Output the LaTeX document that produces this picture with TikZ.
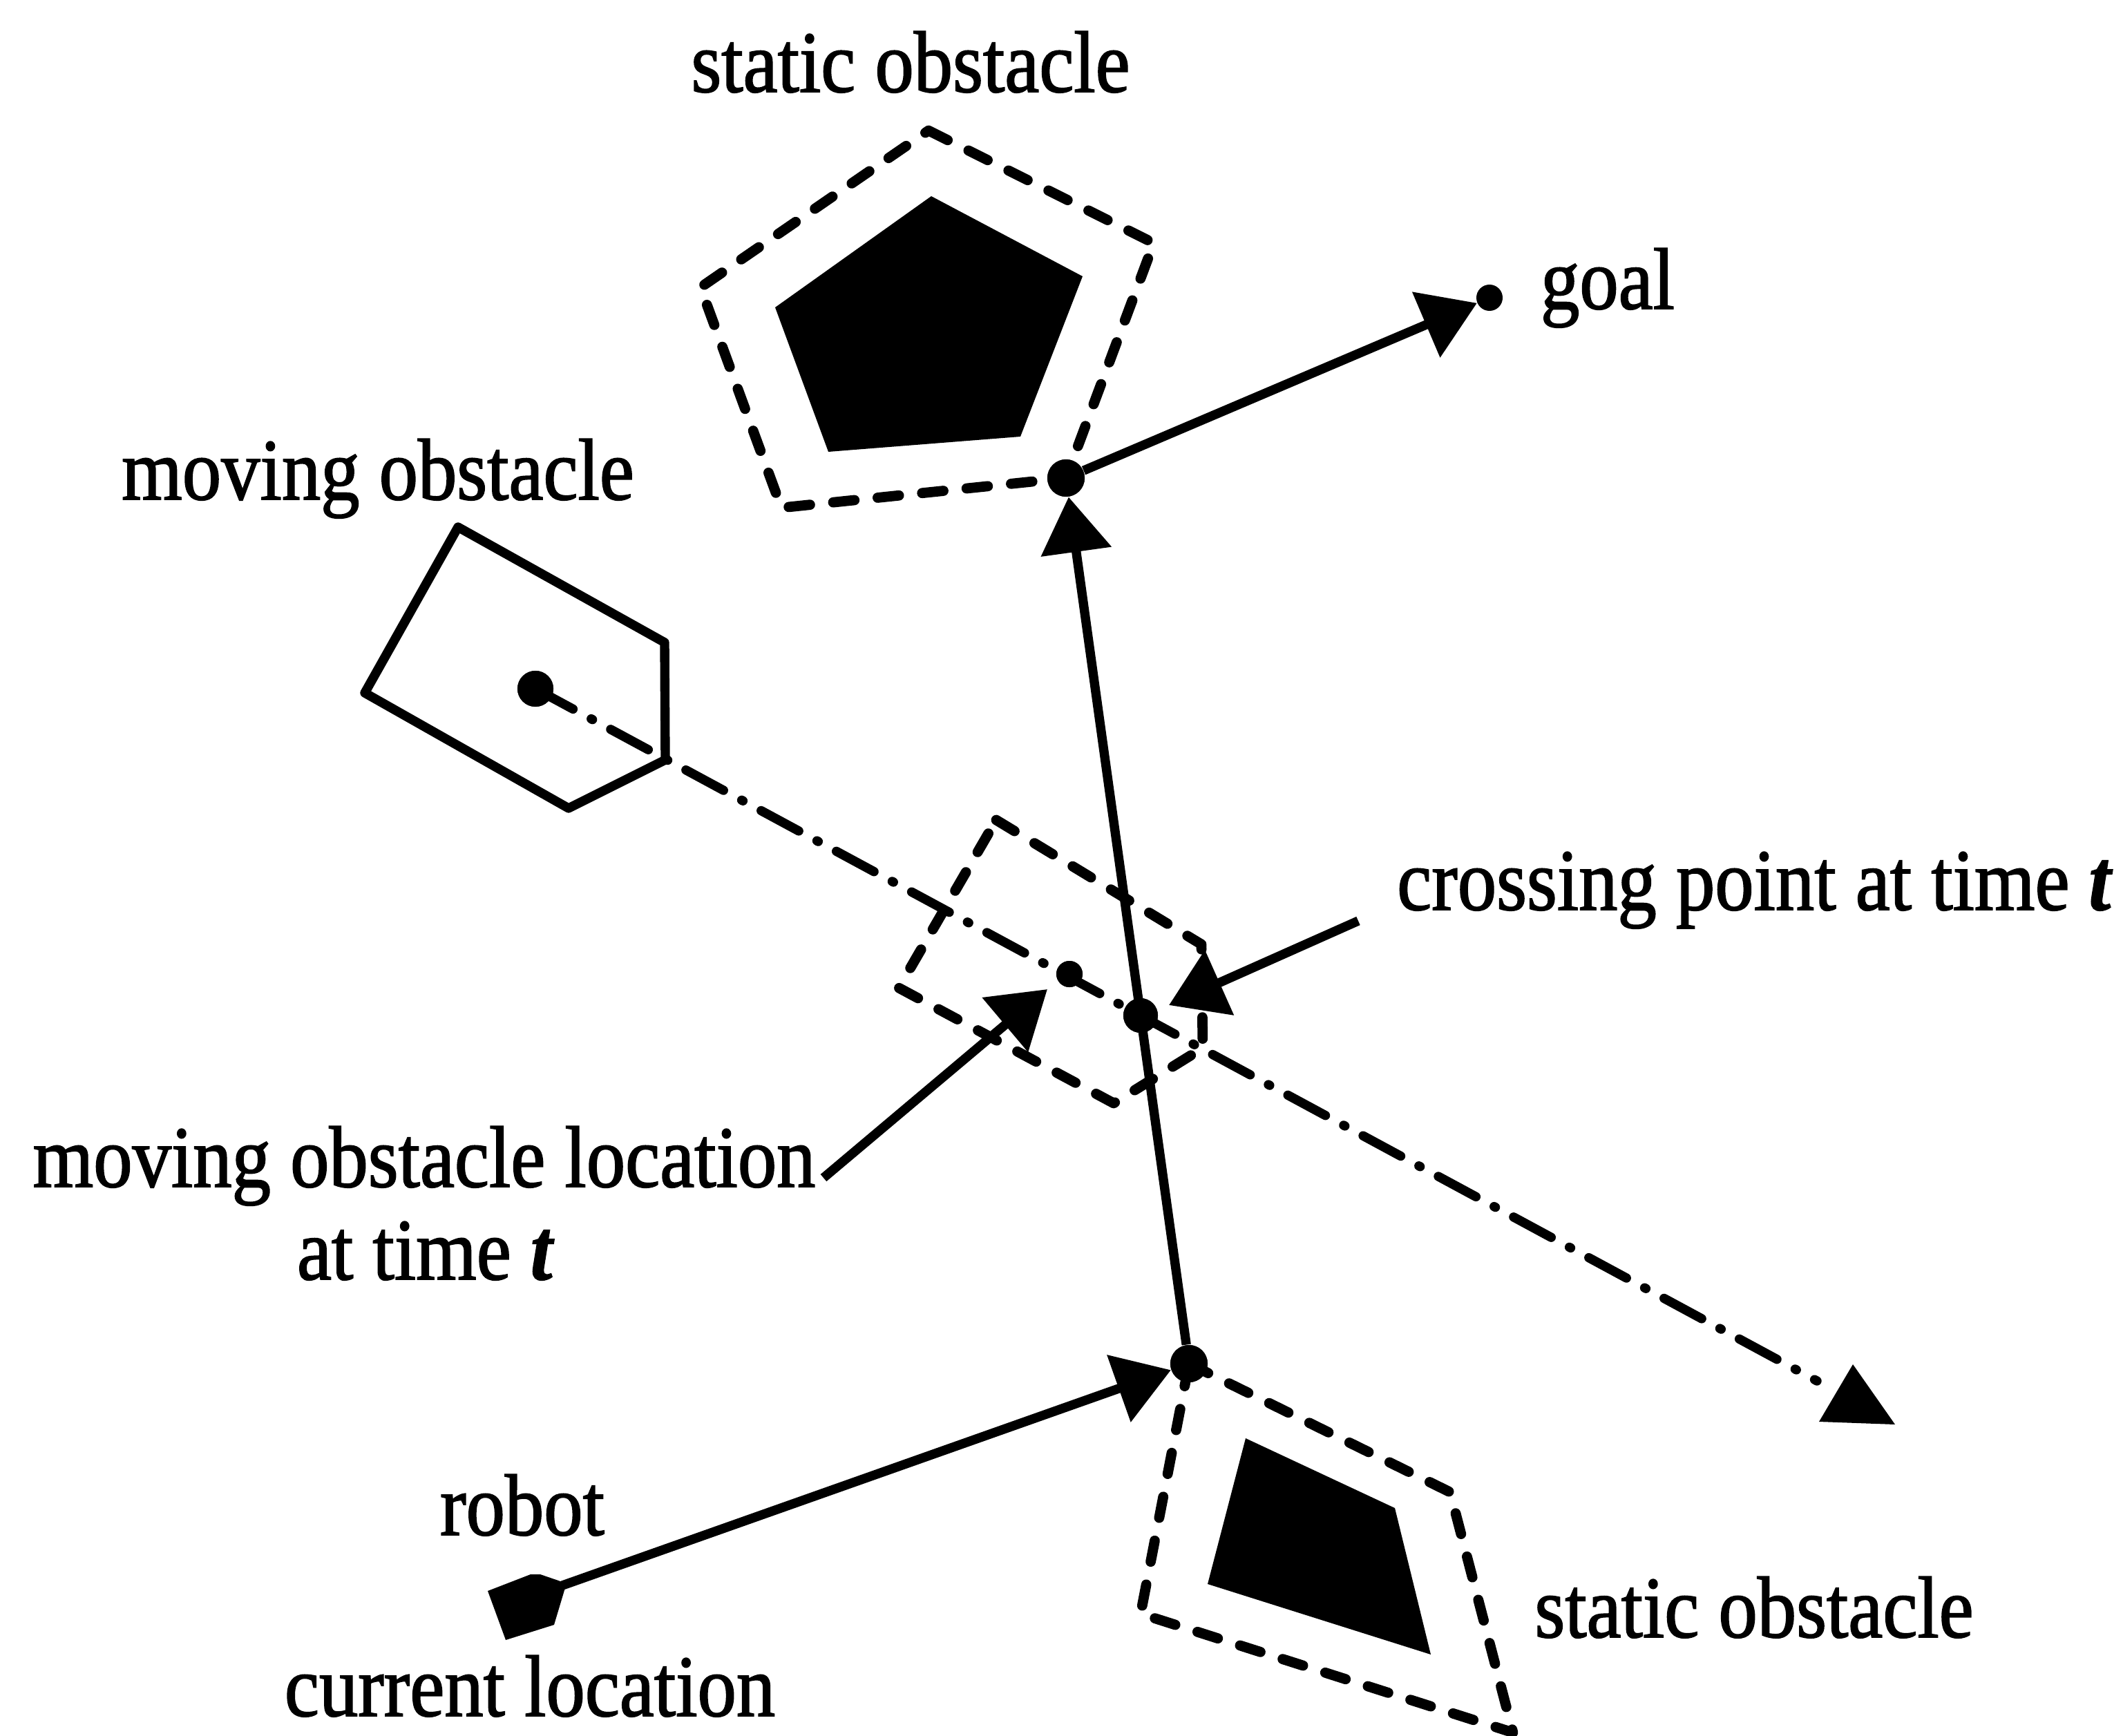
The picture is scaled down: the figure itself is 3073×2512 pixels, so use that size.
\documentclass[tikz,border=0pt]{standalone}
\usepackage{fontspec}
\setmainfont{Liberation Serif}[FakeStretch=0.89,FakeBold=1.4]
\usetikzlibrary{arrows.meta}
\tikzset{
  lw/.style={line width=3.8pt},
  blob/.style={circle, fill=black, draw=none, inner sep=0pt, minimum size=#1},
  obst/.style={line width=4.2pt, line join=round, line cap=round, dash pattern=on 8.8pt off 9.6pt},
  mvpath/.style={line width=3.8pt, line cap=round, dash pattern=on 17.6pt off 8.5pt on 0.6pt off 8.5pt},
  arr/.style={line width=3.8pt, -{Triangle[length=0.8cm,width=1cm]}},
  lbl/.style={font=\fontsize{36}{40}\selectfont, anchor=base, inner sep=0pt}
}
\begin{document}
\begin{tikzpicture}[x=0.01cm, y=-0.01cm]
\clip (0,0) rectangle (3073,2512);
\fill[white] (0,0) rectangle (3073,2512);

% top static obstacle
\fill (1348,284) -- (1567,400) -- (1477,632) -- (1199,654) -- (1122,445) -- cycle;
\draw[obst] (1344,189) -- (1670,352) -- (1543,692) -- (1131,735) -- (1014,416) -- cycle;

% bottom static obstacle
\fill (1803,2082) -- (2019,2183) -- (2071,2395) -- (1748,2293) -- cycle;
\draw[obst] (1721,1974) -- (2099,2160) -- (2190,2508) -- (1651,2336) -- cycle;

% moving obstacle
\draw[lw, line join=round] (663,763) -- (962,930) -- (963,1100) -- (823,1170) -- (528,1003) -- cycle;
% moving obstacle at time t
\draw[obst] (1442,1187) -- (1739,1367) -- (1741,1517) -- (1612,1597) -- (1301,1430) -- cycle;

% robot
\fill (706,2303) -- (768,2279) -- (782,2279) -- (820,2292) -- (802,2352) -- (732,2374) -- cycle;
\coordinate (rtip) at (814,2295);

% dots
\node[blob=0.54cm] (tdot) at (1543,692) {};
\node[blob=0.54cm] (bdot) at (1721,1974) {};
\node[blob=0.38cm] (goal) at (2156,431) {};
\node[blob=0.52cm] (mdot) at (775,997) {};
\node[blob=0.38cm] (gdot) at (1548,1410) {};
\node[blob=0.50cm] (cdot) at (1651,1470) {};

% moving obstacle path
\coordinate (mvend) at (2630,1999);
\draw[mvpath] (mdot.center) -- (mvend);
\fill (2682,1975) -- (2633,2058) -- (2743,2062) -- cycle;

% robot path
\draw[arr] (rtip) -- (bdot);
\draw[arr] (bdot) -- (tdot);
\draw[arr] (tdot) -- (goal);

% redraw dots on top
\node[blob=0.54cm] at (tdot) {};
\node[blob=0.54cm] at (bdot) {};
\node[blob=0.38cm] at (gdot) {};
\node[blob=0.50cm] at (cdot) {};
\node[blob=0.52cm] at (mdot) {};

% label arrows
\coordinate (cpstart) at (1966,1333);
\coordinate (cptip) at (1692,1455);
\draw[arr] (cpstart) -- (cptip);
\coordinate (molstart) at (1192,1705);
\coordinate (moltip) at (1516,1432);
\draw[arr] (molstart) -- (moltip);

% labels
\node[lbl] (s1) at (1318,133) {static obstacle};
\node[lbl] (goaltxt) at (2327,447) {goal};
\node[lbl] (mo) at (547,723) {moving obstacle};
\node[lbl] (cp) at (2540,1317) {crossing point at time \textbf{\textit{t}}};
\node[lbl] (mol) at (614,1718) {moving obstacle location};
\node[lbl] (mol2) at (616,1852) {at time \textbf{\textit{t}}};
\node[lbl] (rb) at (756,2222) {robot};
\node[lbl] (cl) at (767,2484) {current location};
\node[lbl] (s2) at (2539,2370) {static obstacle};
\end{tikzpicture}
\end{document}
